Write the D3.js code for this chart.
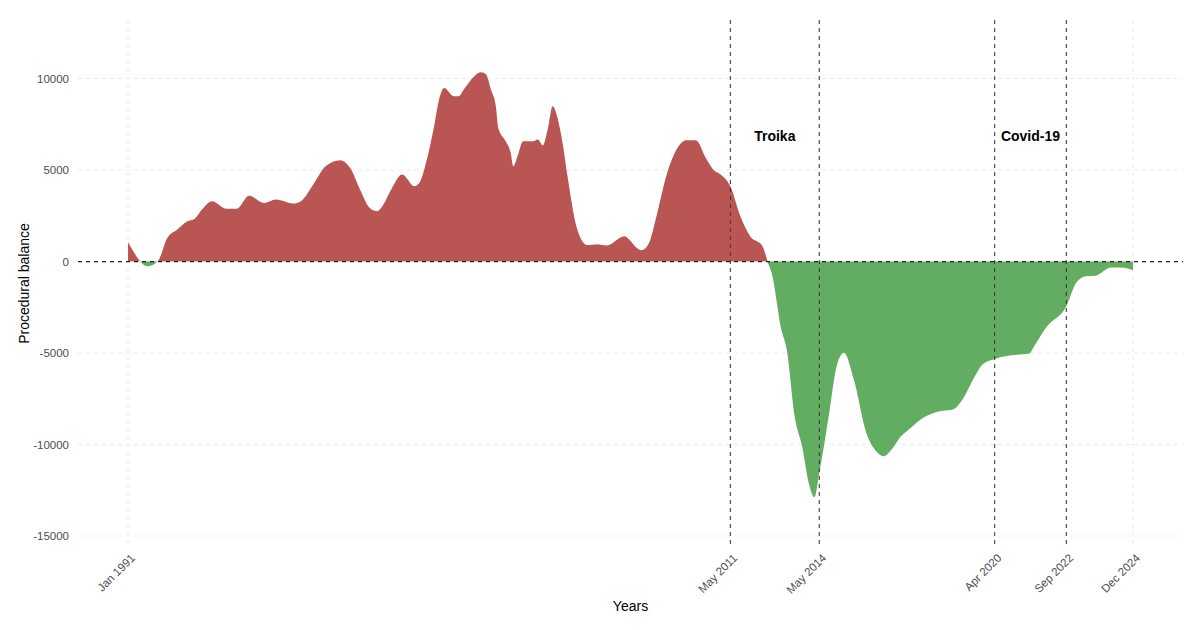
<!DOCTYPE html>
<html>
<head>
<meta charset="utf-8">
<script src="https://cdn.jsdelivr.net/npm/d3@7"></script>
<style>
  body { margin: 0; background: #fff; }
  text { font-family: "Liberation Sans", Arial, sans-serif; }
</style>
</head>
<body>
<div id="chart"></div>
<script>
// Monthly points (procedural balance)
const months = [
  "1991-01","1991-04","1991-06","1991-09","1992-01","1992-05","1992-09","1993-01","1993-04","1993-07",
  "1993-11","1994-05","1994-09","1995-02","1995-08","1996-01","1996-08","1996-11","1997-04","1997-09",
  "1998-03","1998-07","1998-11","1999-03","1999-06","1999-08","1999-12","2000-04","2000-09","2000-11",
  "2001-02","2001-05","2001-07","2001-09","2002-01","2002-03","2002-05","2002-07","2002-12","2003-02",
  "2003-04","2003-06","2003-07","2003-10","2003-12","2004-01","2004-03","2004-05","2004-09","2004-11",
  "2005-01","2005-03","2005-05","2005-07","2005-09","2005-11","2006-03","2006-07","2006-11","2007-03",
  "2007-10","2007-12","2008-03","2008-05","2008-08","2008-11","2009-03","2009-09","2009-11","2010-03",
  "2010-07","2010-10","2011-01","2011-05","2011-09","2012-01","2012-06","2012-07","2012-08","2012-10",
  "2012-12","2013-01","2013-04","2013-07","2013-10","2014-01","2014-03","2014-05","2014-09","2014-12",
  "2015-03","2015-07","2015-12","2016-04","2016-07","2016-10","2017-02","2017-06","2017-10","2018-05",
  "2018-11","2019-03","2019-08","2019-11","2020-04","2020-10","2021-06","2021-08","2022-01","2022-09",
  "2023-01","2023-05","2023-09","2024-03","2024-07","2024-12"
];
const balance = [
  1050, 380, 0, -260, 0, 1300, 1750, 2200, 2330, 2840,
  3300, 2880, 2880, 3600, 3200, 3390, 3170, 3300, 4200, 5210,
  5540, 5120, 3930, 2930, 2750, 3020, 4030, 4750, 4110, 4300,
  5570, 7390, 8850, 9490, 9030, 9030, 9400, 9760, 10340, 10220,
  9400, 8490, 7300, 6570, 5940, 5210, 5850, 6570, 6570, 6670,
  6340, 7210, 8490, 7850, 6480, 4660, 1750, 900, 950, 880,
  1380, 1200, 750, 620, 1020, 2480, 4660, 6480, 6630, 6630,
  5670, 5030, 4750, 4110, 2480, 1380, 840, 480, 0, -800,
  -2440, -3350, -4990, -8450, -10090, -12280, -12880, -11550, -8270, -5720,
  -4990, -6450, -9360, -10370, -10640, -10310, -9550, -9090, -8630, -8210,
  -8090, -7540, -6270, -5630, -5320, -5140, -5030, -4630, -3570, -2440,
  -1160, -800, -770, -330, -330, -480
];

// Axis breaks and event markers
const tickMonths = ["1991-01", "2011-05", "2014-05", "2020-04", "2022-09", "2024-12"];
const tickLabels = ["Jan 1991", "May 2011", "May 2014", "Apr 2020", "Sep 2022", "Dec 2024"];
const yTicks = [-15000, -10000, -5000, 0, 5000, 10000];
const eventMonths = ["2011-05", "2014-05", "2020-04", "2022-09"];
const periods = [
  { label: "Troika", from: "2011-05", to: "2014-05", y: 6850 },
  { label: "Covid-19", from: "2020-04", to: "2022-09", y: 6850 }
];

const width = 1200, height = 630;
const panel = { left: 78, right: 1183, top: 20, bottom: 547 };
const parse = d3.timeParse("%Y-%m");

const data = months.map((m, i) => ({ date: parse(m), value: balance[i] }));

const x = d3.scaleTime()
  .domain([parse("1991-01"), parse("2024-12")])
  .range([128, 1133]);

const y = d3.scaleLinear()
  .domain([-15600, 13200])
  .range([panel.bottom, panel.top]);

const svg = d3.select("#chart")
  .append("svg")
  .attr("width", width)
  .attr("height", height);

// Grid
svg.append("g")
  .selectAll("line")
  .data(yTicks)
  .join("line")
  .attr("x1", panel.left)
  .attr("x2", panel.right)
  .attr("y1", d => y(d))
  .attr("y2", d => y(d))
  .attr("stroke", "#ebebeb")
  .attr("stroke-dasharray", "4,4");

svg.append("g")
  .selectAll("line")
  .data(tickMonths)
  .join("line")
  .attr("x1", d => x(parse(d)))
  .attr("x2", d => x(parse(d)))
  .attr("y1", panel.top)
  .attr("y2", panel.bottom)
  .attr("stroke", "#ebebeb")
  .attr("stroke-dasharray", "4,4");

// Split fill: red above zero, green below
svg.append("clipPath").attr("id", "above")
  .append("rect")
  .attr("x", panel.left).attr("y", panel.top)
  .attr("width", panel.right - panel.left)
  .attr("height", y(0) - panel.top);

svg.append("clipPath").attr("id", "below")
  .append("rect")
  .attr("x", panel.left).attr("y", y(0))
  .attr("width", panel.right - panel.left)
  .attr("height", panel.bottom - y(0));

const area = d3.area()
  .x(d => x(d.date))
  .y0(y(0))
  .y1(d => y(d.value))
  .curve(d3.curveMonotoneX);

svg.append("path")
  .datum(data)
  .attr("d", area)
  .attr("fill", "#b95654")
  .attr("clip-path", "url(#above)");

svg.append("path")
  .datum(data)
  .attr("d", area)
  .attr("fill", "#63ad62")
  .attr("clip-path", "url(#below)");

// Event lines
svg.append("g")
  .selectAll("line")
  .data(eventMonths)
  .join("line")
  .attr("x1", d => x(parse(d)))
  .attr("x2", d => x(parse(d)))
  .attr("y1", panel.top)
  .attr("y2", panel.bottom)
  .attr("stroke", "#333")
  .attr("stroke-width", 1)
  .attr("stroke-dasharray", "4,4");

// Zero line
svg.append("line")
  .attr("x1", panel.left)
  .attr("x2", panel.right)
  .attr("y1", y(0))
  .attr("y2", y(0))
  .attr("stroke", "#222")
  .attr("stroke-width", 1.3)
  .attr("stroke-dasharray", "4,4");

// Period labels
svg.append("g")
  .selectAll("text")
  .data(periods)
  .join("text")
  .attr("x", d => (x(parse(d.from)) + x(parse(d.to))) / 2)
  .attr("y", d => y(d.y))
  .attr("dy", "0.35em")
  .attr("text-anchor", "middle")
  .attr("font-weight", "bold")
  .attr("font-size", "14px")
  .attr("fill", "#000")
  .text(d => d.label);

// Y axis labels
svg.append("g")
  .selectAll("text")
  .data(yTicks)
  .join("text")
  .attr("x", 69)
  .attr("y", d => y(d))
  .attr("dy", "0.35em")
  .attr("text-anchor", "end")
  .attr("font-size", "11.5px")
  .attr("fill", "#4d4d4d")
  .text(d => d);

// X axis labels, rotated
svg.append("g")
  .selectAll("text")
  .data(tickMonths)
  .join("text")
  .attr("transform", d => `translate(${x(parse(d)) + 2},553) rotate(-45)`)
  .attr("dy", "0.7em")
  .attr("text-anchor", "end")
  .attr("font-size", "11.5px")
  .attr("fill", "#4d4d4d")
  .text((d, i) => tickLabels[i]);

// Axis titles
svg.append("text")
  .attr("x", (panel.left + panel.right) / 2)
  .attr("y", 611)
  .attr("text-anchor", "middle")
  .attr("font-size", "14px")
  .attr("fill", "#000")
  .text("Years");

svg.append("text")
  .attr("transform", `translate(29,${(panel.top + panel.bottom) / 2}) rotate(-90)`)
  .attr("text-anchor", "middle")
  .attr("font-size", "14px")
  .attr("fill", "#000")
  .text("Procedural balance");
</script>
</body>
</html>
